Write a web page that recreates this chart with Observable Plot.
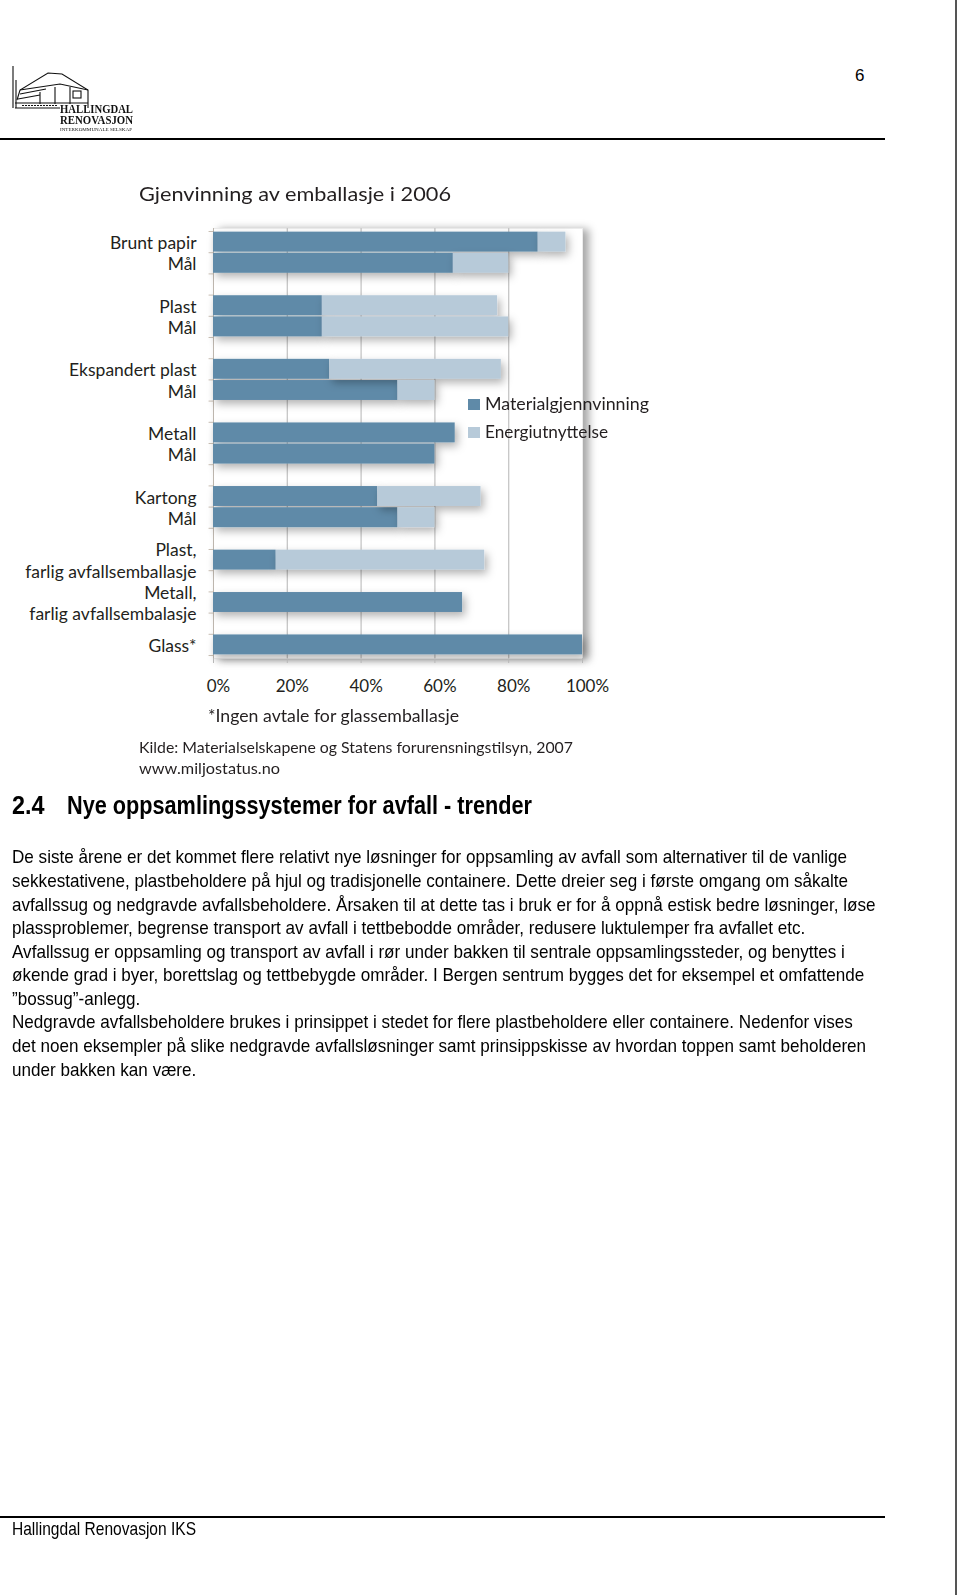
<!DOCTYPE html>
<html><head><meta charset="utf-8">
<script src="https://cdn.jsdelivr.net/npm/d3@7"></script>
<script src="https://cdn.jsdelivr.net/npm/@observablehq/plot@0.6"></script>
<style>
html,body{margin:0;padding:0;background:#fff;}
body{width:960px;height:1595px;position:relative;overflow:hidden;font-family:"Liberation Sans Narrow","Arial Narrow","Liberation Sans",sans-serif;color:#000;}
.abs{position:absolute;white-space:nowrap;transform-origin:0 50%;}
.ct{font-family:Lato,"Open Sans",sans-serif;color:#231f20;z-index:3;}
.body-line{font-size:19px;line-height:21px;left:12px;}
.logo{font-family:"Liberation Serif",serif;color:#111;}
</style></head><body>

<!-- header -->
<svg class="abs" style="left:0;top:60px" width="100" height="56">
  <g fill="none" stroke="#111" stroke-width="1.1">
    <path d="M13 6 L13 48 M16 20 L16 48"/>
    <path d="M17 40 L20 30 L48 13 L62 14 L88 30 L88 48"/>
    <path d="M20 30 L60 24 L88 30 M40 32 L40 44 M55 27 L55 44 M70 27 L70 44"/>
    <path d="M15 43 L88 43 M15 48 L60 48 M18 39 L40 35 M20 34 L46 29"/>
    <path d="M22 45.5 L58 45.5" stroke-dasharray="2 1"/>
    <rect x="73" y="31" width="8" height="7"/>
  </g>
</svg>
<div class="abs logo" data-w="73" style="left:60px;top:103px;font-size:13px;line-height:12px;font-weight:bold;">HALLINGDAL</div>
<div class="abs logo" data-w="73" style="left:60px;top:115px;font-size:12px;line-height:11px;font-weight:bold;">RENOVASJON</div>
<div class="abs logo" data-w="72" style="left:60px;top:126.5px;font-size:5px;line-height:5px;">INTERKOMMUNALE SELSKAP</div>
<div class="abs" style="left:855px;top:66px;font-family:'Liberation Sans',sans-serif;font-size:17px;">6</div>
<div class="abs" style="left:0;top:138px;width:885px;height:2px;background:#000;"></div>
<div class="abs" style="left:955px;top:0;width:2px;height:1595px;background:#555;"></div>

<!-- chart texts -->
<div class="abs ct" id="ctitle" data-w="312" style="left:139px;top:181px;font-size:20px;">Gjenvinning av emballasje i 2006</div>
<div class="abs ct" style="left:468px;top:399px;width:12px;height:11px;" id="leg0"></div>
<div class="abs ct" data-w="164" style="left:485px;top:393px;font-size:17px;" id="legt0"></div>
<div class="abs ct" style="left:468px;top:427px;width:12px;height:11px;" id="leg1"></div>
<div class="abs ct" data-w="123" style="left:485px;top:421px;font-size:17px;" id="legt1"></div>
<div class="abs ct" data-w="251" style="left:208px;top:706px;font-size:16.5px;">*Ingen avtale for glassemballasje</div>
<div class="abs ct" data-w="434" style="left:139px;top:738px;font-size:15px;">Kilde: Materialselskapene og Statens forurensningstilsyn, 2007</div>
<div class="abs ct" data-w="141" style="left:139px;top:759px;font-size:15px;">www.miljostatus.no</div>

<!-- heading & body -->
<div class="abs" style="left:12px;top:790px;font-size:26px;font-weight:bold;" id="h24">2.4</div>
<div class="abs" data-w="465" style="left:67px;top:790px;font-size:26px;font-weight:bold;">Nye oppsamlingssystemer for avfall - trender</div>
<div id="bodytext"></div>

<div class="abs" style="left:0;top:1516px;width:885px;height:2px;background:#000;"></div>
<div class="abs" data-w="184" style="left:12px;top:1518px;font-size:19px;">Hallingdal Renovasjon IKS</div>

<script>
// ---------- chart data ----------
const rowLabels = ["Brunt papir","Mål","","Plast","Mål","","Ekspandert plast","Mål","","Metall","Mål","","Kartong","Mål","","Plast,\nfarlig avfallsemballasje","","Metall,\nfarlig avfallsembalasje","","Glass*"];
const materialShare = [88,65,null,29.5,29.5,null,31.5,50,null,65.5,60,null,44.5,50,null,17,null,67.5,null,100];
const totalShare    = [95.5,80,null,77,80,null,78,60,null,65.5,60,null,72.5,60,null,73.5,null,67.5,null,100];
const xTicks = [0,20,40,60,80,100];
const gridTicks = [20,40,60,80];
const seriesNames = ["Materialgjennvinning","Energiutnyttelse"];
const seriesColors = ["#5f8aa8","#b7cad9"];

// ---------- body text ----------
const bodyLines = [
"De siste årene er det kommet flere relativt nye løsninger for oppsamling av avfall som alternativer til de vanlige",
"sekkestativene, plastbeholdere på hjul og tradisjonelle containere. Dette dreier seg i første omgang om såkalte",
"avfallssug og nedgravde avfallsbeholdere. Årsaken til at dette tas i bruk er for å oppnå estisk bedre løsninger, løse",
"plassproblemer, begrense transport av avfall i tettbebodde områder, redusere luktulemper fra avfallet etc.",
"Avfallssug er oppsamling og transport av avfall i rør under bakken til sentrale oppsamlingssteder, og benyttes i",
"økende grad i byer, borettslag og tettbebygde områder. I Bergen sentrum bygges det for eksempel et omfattende",
"”bossug”-anlegg.",
"Nedgravde avfallsbeholdere brukes i prinsippet i stedet for flere plastbeholdere eller containere. Nedenfor vises",
"det noen eksempler på slike nedgravde avfallsløsninger samt prinsippskisse av hvordan toppen samt beholderen",
"under bakken kan være."
];

const rows = rowLabels.map((label, i) => ({row: i, label, material: materialShare[i], total: totalShare[i]}));
const barsData = rows.filter(d => d.material != null);
const energyData = barsData.filter(d => d.total > d.material);
const rowIdx = d3.range(rowLabels.length);

const chart = Plot.plot({
  width: 960, height: 498,
  marginLeft: 213, marginRight: 378, marginTop: 28, marginBottom: 40,
  style: {fontFamily: "Lato, 'Open Sans', sans-serif", fontSize: "17px", color: "#231f20", background: "transparent", overflow: "visible"},
  x: {domain: [0, 100]},
  y: {domain: rowIdx, paddingInner: 0.06, paddingOuter: 0.03, insetTop: 3, insetBottom: 3, round: false},
  marks: [
    Plot.frame({fill: "white", stroke: "#ececec"}),
    Plot.ruleX(gridTicks, {stroke: "#c6c6c6", strokeWidth: 1.3}),
    Plot.ruleX([0], {stroke: "#bdb6ae"}),
    Plot.ruleY(rowIdx, {x1: -1.2, x2: 0, dy: -10.6, stroke: "#c9bfb4"}),
    Plot.ruleY([rowIdx[rowIdx.length - 1]], {x1: -1.2, x2: 0, dy: 10.6, stroke: "#c9bfb4"}),
    Plot.barX(barsData, {y: "row", x1: 0, x2: "material", fill: seriesColors[0]}),
    Plot.barX(energyData, {y: "row", x1: "material", x2: "total", fill: seriesColors[1]}),
    Plot.axisY({tickSize: 0, tickPadding: 17, tickFormat: i => rowLabels[i], lineHeight: 1.25, fontSize: 17.5, label: null}),
    Plot.axisX({ticks: xTicks, tickSize: 5, tickFormat: () => "", stroke: "#b8b8b8", label: null}),
    Plot.axisX({ticks: xTicks, tickSize: 0, tickPadding: 21, tickFormat: d => d + "%", dx: 5, fontSize: 17, label: null})
  ]
});
const ns = "http://www.w3.org/2000/svg";
const defs = document.createElementNS(ns, "defs");
defs.innerHTML = `<filter id="barShadow" x="-10%" y="-60%" width="130%" height="260%"><feDropShadow dx="3" dy="4" stdDeviation="4.5" flood-color="#000" flood-opacity="0.3"/></filter>
<filter id="frameShadow" x="-5%" y="-5%" width="115%" height="115%"><feDropShadow dx="6" dy="1" stdDeviation="4" flood-color="#000" flood-opacity="0.35"/></filter>`;
chart.prepend(defs);
chart.querySelectorAll('g[aria-label="bar"]').forEach(g => g.setAttribute("filter", "url(#barShadow)"));
const fr = chart.querySelector('[aria-label="frame"]');
if (fr) fr.setAttribute("filter", "url(#frameShadow)");
chart.style.position = "absolute";
chart.style.left = "0px";
chart.style.top = "200px";
chart.style.zIndex = "1";
document.body.appendChild(chart);

// legend
document.getElementById("leg0").style.background = seriesColors[0];
document.getElementById("leg1").style.background = seriesColors[1];
document.getElementById("legt0").textContent = seriesNames[0];
document.getElementById("legt1").textContent = seriesNames[1];

// body lines
const lineTops = [846, 870, 894, 917, 941, 964, 988, 1011, 1035, 1059];
const bt = document.getElementById("bodytext");
const els = bodyLines.map((t, i) => {
  const d = document.createElement("div");
  d.className = "abs body-line";
  d.style.top = lineTops[i] + "px";
  d.textContent = t;
  bt.appendChild(d);
  return d;
});
const s = 835 / els[0].getBoundingClientRect().width;
els.forEach(d => d.style.transform = `scaleX(${s})`);
document.querySelectorAll("[data-w]").forEach(el => {
  const w = el.getBoundingClientRect().width;
  el.style.transform = `scaleX(${(+el.dataset.w) / w})`;
});
document.getElementById("h24").style.transform = `scaleX(${s})`;
</script>
</body></html>
